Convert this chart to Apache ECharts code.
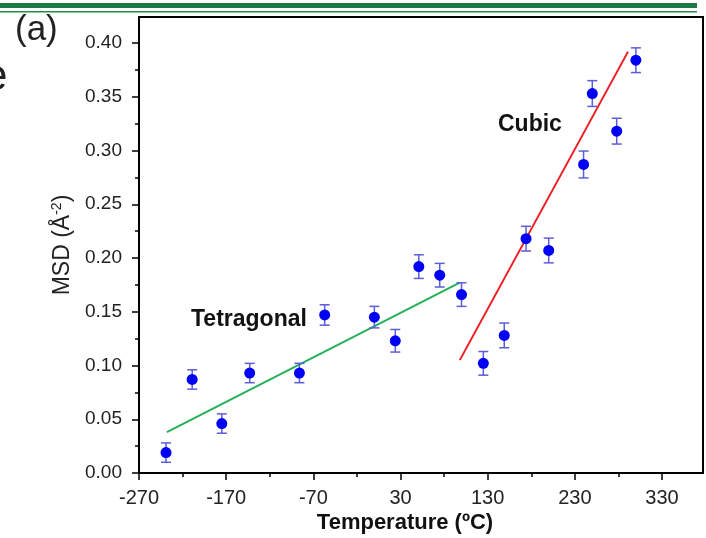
<!DOCTYPE html>
<html>
<head>
<meta charset="utf-8">
<script src="https://cdn.jsdelivr.net/npm/echarts@6/dist/echarts.min.js"></script>
<style>
    html, body {margin: 0; padding: 0; background: #fff;}
    #chart {width: 706px; height: 538px;}
</style>
</head>
<body>
<div id="chart"></div>
<script>
// temperature (ºC) and MSD values
const temps = [-239, -209, -175, -143, -86, -57, 0, 24, 51, 75, 100, 125, 149, 174, 200, 240, 250, 278, 300];
const msd = [0.019, 0.087, 0.046, 0.093, 0.093, 0.147, 0.145, 0.123, 0.192, 0.184, 0.166, 0.102, 0.128, 0.218, 0.207, 0.287, 0.353, 0.318, 0.384];
const msdErr = [0.009, 0.009, 0.009, 0.009, 0.009, 0.0095, 0.010, 0.0105, 0.011, 0.011, 0.011, 0.011, 0.0115, 0.0115, 0.0115, 0.0125, 0.012, 0.012, 0.0115];

// linear fits
const tetragonalFit = [[-238, 0.038], [98, 0.177]];
const cubicFit = [[98, 0.105], [291, 0.392]];

const xTicks = [-270, -170, -70, 30, 130, 230, 330];
const xMinorTicks = [-220, -120, -20, 80, 180, 280];
const yTicks = [0, 0.05, 0.10, 0.15, 0.20, 0.25, 0.30, 0.35, 0.40];
const yMinorTicks = [0.025, 0.075, 0.125, 0.175, 0.225, 0.275, 0.325, 0.375];

const X_MIN = -270, X_MAX = 377;
const Y_MIN = 0, Y_MAX = 0.4242;

const errColor = '#5d5dd8';
const font = 'Liberation Sans, Arial, sans-serif';

let myChart = echarts.init(document.getElementById('chart'));

const points = temps.map(function (t, i) {
    return [t, msd[i], msdErr[i]];
});

function errorBar(params, api) {
    const x = api.value(0);
    const y = api.value(1);
    const e = api.value(2);
    const top = api.coord([x, y + e]);
    const bot = api.coord([x, y - e]);
    const hw = 5;
    const style = {stroke: errColor, lineWidth: 1.5};
    return {
        type: 'group',
        children: [
            {type: 'line', shape: {x1: top[0], y1: top[1], x2: bot[0], y2: bot[1]}, style: style},
            {type: 'line', shape: {x1: top[0] - hw, y1: top[1], x2: top[0] + hw, y2: top[1]}, style: style},
            {type: 'line', shape: {x1: bot[0] - hw, y1: bot[1], x2: bot[0] + hw, y2: bot[1]}, style: style}
        ]
    };
}

const option = {
    animation: false,
    grid: {
        left: 139, right: 3, top: 17, bottom: 65,
        show: true, borderColor: '#000', borderWidth: 2,
        outerBoundsMode: 'none'
    },
    xAxis: [{
        type: 'value', min: X_MIN, max: X_MAX,
        axisLine: {show: true, onZero: false, lineStyle: {color: '#000', width: 2}},
        axisTick: {show: true, customValues: xTicks, length: 7, lineStyle: {color: '#000', width: 1.5}},
        axisLabel: {customValues: xTicks, margin: 15, color: '#222', fontSize: 20, fontFamily: font},
        splitLine: {show: false}
    }, {
        type: 'value', min: X_MIN, max: X_MAX, position: 'bottom',
        axisLine: {show: false, onZero: false},
        axisTick: {show: true, customValues: xMinorTicks, length: 4, lineStyle: {color: '#000', width: 1.5}},
        axisLabel: {show: false},
        splitLine: {show: false}
    }],
    yAxis: [{
        type: 'value', min: Y_MIN, max: Y_MAX,
        name: 'MSD (Å{sup|-2})',
        nameLocation: 'middle', nameRotate: 90, nameGap: 55,
        nameTextStyle: {
            color: '#222', fontSize: 23, fontFamily: font,
            rich: {sup: {fontSize: 14, verticalAlign: 'top', padding: [0, 0, 10, 0], color: '#222', fontFamily: font}}
        },
        axisLine: {show: true, onZero: false, lineStyle: {color: '#000', width: 2}},
        axisTick: {show: true, customValues: yTicks, length: 7, lineStyle: {color: '#000', width: 1.5}},
        axisLabel: {
            customValues: yTicks, margin: 17, color: '#222', fontSize: 19, fontFamily: font,
            formatter: function (v) { return v.toFixed(2); }
        },
        splitLine: {show: false}
    }, {
        type: 'value', min: Y_MIN, max: Y_MAX, position: 'left',
        axisLine: {show: false, onZero: false},
        axisTick: {show: true, customValues: yMinorTicks, length: 4, lineStyle: {color: '#000', width: 1.5}},
        axisLabel: {show: false},
        splitLine: {show: false}
    }],
    series: [{
        type: 'line', data: tetragonalFit, symbol: 'none',
        lineStyle: {color: '#25b05a', width: 2}, z: 2
    }, {
        type: 'line', data: cubicFit, symbol: 'none',
        lineStyle: {color: '#ee1c25', width: 2}, z: 2
    }, {
        type: 'custom', data: points, renderItem: errorBar,
        encode: {x: 0, y: 1}, z: 3
    }, {
        type: 'scatter', data: points, symbol: 'circle', symbolSize: 11,
        itemStyle: {color: '#0000f5', opacity: 1}, z: 4
    }],
    graphic: [
        {type: 'rect', shape: {x: 0, y: 3, width: 697, height: 5}, style: {fill: '#1e7a44'}},
        {type: 'line', shape: {x1: 0, y1: 11.8, x2: 697, y2: 11.8}, style: {stroke: '#268a4e', lineWidth: 1.5}},
        {type: 'text', x: 15, y: 13, style: {text: '(a)', font: '35px ' + font, fill: '#222'}},
        {type: 'text', x: -17, y: 56, style: {text: 'e', font: '44px ' + font, fill: '#222'}},
        {type: 'text', x: 191, y: 308, style: {text: 'Tetragonal', font: 'bold 23px ' + font, fill: '#111'}},
        {type: 'text', x: 498, y: 113, style: {text: 'Cubic', font: 'bold 23px ' + font, fill: '#111'}},
        {type: 'text', x: 405, y: 512, style: {text: 'Temperature (ºC)', font: 'bold 22px ' + font, fill: '#111', align: 'center'}}
    ]
};

myChart.setOption(option);
</script>
</body>
</html>
